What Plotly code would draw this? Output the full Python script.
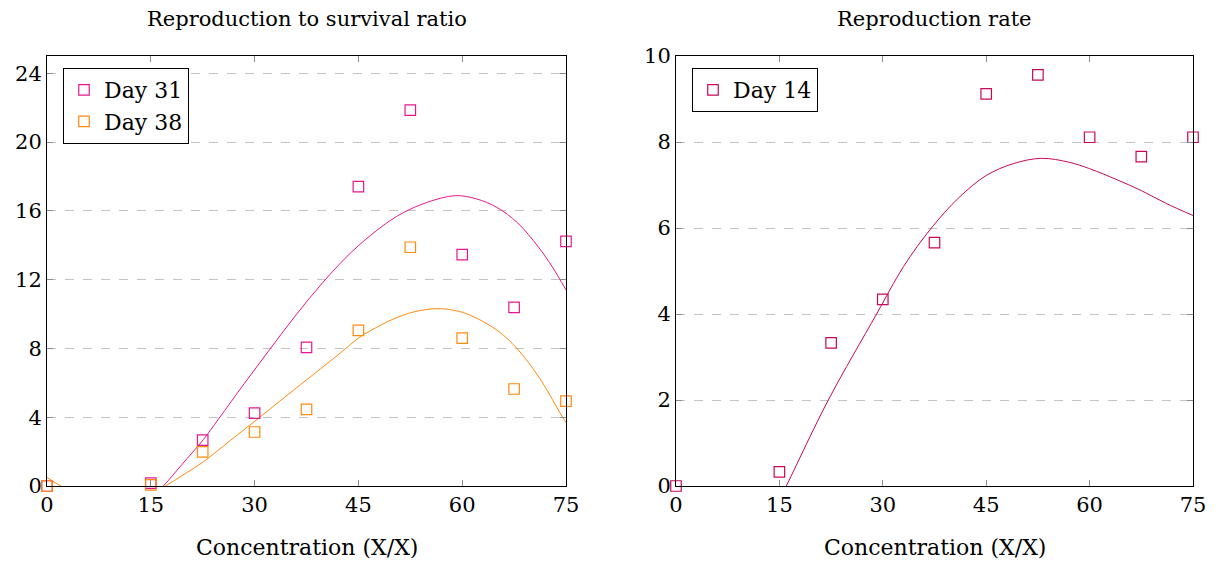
import plotly.graph_objects as go

# ---- data ----
conc = [0, 15, 22.5, 30, 37.5, 45, 52.5, 60, 67.5, 75]
day31 = [0.0, 0.17, 2.67, 4.24, 8.06, 17.4, 21.85, 13.45, 10.38, 14.22]
day38 = [0.0, 0.06, 1.98, 3.14, 4.46, 9.05, 13.88, 8.6, 5.64, 4.94]
day14 = [0.0, 0.33, 3.33, 4.34, 5.66, 9.12, 9.56, 8.11, 7.66, 8.11]

fit31_x = [0, 5, 10, 15, 16.8, 19.5, 22.6, 24.8, 28.5, 32.2, 36, 39.9, 44, 48.1, 51.3, 55, 59, 62, 65, 68, 71, 73, 75]
fit31_y = [-6.0, -4.3, -2.5, -0.7, 0.0, 1.25, 2.7, 3.9, 5.95, 7.95, 9.95, 11.85, 13.6, 15.0, 15.85, 16.5, 16.88, 16.7, 16.2, 15.3, 13.9, 12.75, 11.4]

fit38_x = [0, 2, 5, 10, 14, 17.1, 19.5, 22.6, 26.5, 30.6, 34, 37.6, 42.6, 45, 46.7, 50, 53, 56.3, 59, 61.1, 65, 67.9, 71.2, 74.5, 75]
fit38_y = [0.5, 0.0, -0.6, -1.0, -0.7, 0.0, 0.6, 1.41, 2.65, 3.95, 5.05, 6.2, 7.8, 8.6, 9.02, 9.7, 10.12, 10.31, 10.2, 9.94, 9.07, 8.0, 6.26, 4.0, 3.7]

fit14_x = [0, 8, 12, 16, 22.1, 29.1, 33, 37.05, 41, 45, 49, 53, 57, 60, 64, 67.5, 71, 75]
fit14_y = [-3.0, -2.2, -1.3, 0.0, 2.0, 4.0, 5.1, 6.0, 6.7, 7.22, 7.5, 7.62, 7.53, 7.38, 7.12, 6.87, 6.58, 6.29]

x_ticks = [0, 15, 30, 45, 60, 75]
y1_ticks = [0, 4, 8, 12, 16, 20, 24]
y2_ticks = [0, 2, 4, 6, 8, 10]

c31 = "#e8178f"
c38 = "#ff8a0d"
c14 = "#c8085a"

FONT = "DejaVu Serif"

fig = go.Figure()

fig.add_trace(go.Scatter(x=fit31_x, y=fit31_y, mode="lines", line=dict(color=c31, width=1, shape="spline"),
                         showlegend=False, hoverinfo="skip", xaxis="x", yaxis="y"))
fig.add_trace(go.Scatter(x=fit38_x, y=fit38_y, mode="lines", line=dict(color=c38, width=1, shape="spline"),
                         showlegend=False, hoverinfo="skip", xaxis="x", yaxis="y"))
fig.add_trace(go.Scatter(x=conc, y=day31, mode="markers", name="Day 31",
                         marker=dict(symbol="square-open", size=10.5, color=c31, line=dict(width=1.2)),
                         cliponaxis=False, xaxis="x", yaxis="y", legend="legend"))
fig.add_trace(go.Scatter(x=conc, y=day38, mode="markers", name="Day 38",
                         marker=dict(symbol="square-open", size=10.5, color=c38, line=dict(width=1.2)),
                         cliponaxis=False, xaxis="x", yaxis="y", legend="legend"))

fig.add_trace(go.Scatter(x=fit14_x, y=fit14_y, mode="lines", line=dict(color=c14, width=1, shape="spline"),
                         showlegend=False, hoverinfo="skip", xaxis="x2", yaxis="y2"))
fig.add_trace(go.Scatter(x=conc, y=day14, mode="markers", name="Day 14",
                         marker=dict(symbol="square-open", size=10.5, color=c14, line=dict(width=1.2)),
                         cliponaxis=False, xaxis="x2", yaxis="y2", legend="legend2"))

# page is offset by the default 8px body margin
OFF = 8
W, H = 1208, 554


def px(p):
    return (p - OFF) / W


def py(p):
    return 1 - (p - OFF) / H


xd1 = [px(47), px(566)]
xd2 = [px(676), px(1193)]
yd = [py(486), py(56)]

axis_common = dict(showline=True, linecolor="black", linewidth=1, mirror="ticks",
                   ticks="inside", ticklen=6, tickcolor="#8c8c8c", tickwidth=1, automargin=False,
                   tickfont=dict(family=FONT, size=21, color="black"), zeroline=False)

TFS = 22

fig.update_layout(
    width=W, height=H,
    margin=dict(l=0, r=0, t=0, b=0),
    paper_bgcolor="white", plot_bgcolor="white",
    font=dict(family=FONT, size=21, color="black"),
    xaxis=dict(domain=xd1, range=[0, 75], tickvals=x_ticks, showgrid=False, anchor="y", **axis_common),
    yaxis=dict(domain=yd, range=[0, 25], tickvals=y1_ticks, showgrid=True, gridcolor="#c4c4c4",
               griddash="dash", gridwidth=1, anchor="x", **axis_common),
    xaxis2=dict(domain=xd2, range=[0, 75], tickvals=x_ticks, showgrid=False, anchor="y2", **axis_common),
    yaxis2=dict(domain=yd, range=[0, 10], tickvals=y2_ticks, showgrid=True, gridcolor="#c4c4c4",
                griddash="dash", gridwidth=1, anchor="x2", **axis_common),
    legend=dict(x=px(63), y=py(68), xanchor="left", yanchor="top", bgcolor="white",
                bordercolor="black", borderwidth=1, font=dict(family=FONT, size=TFS),
                itemwidth=30, tracegroupgap=0),
    legend2=dict(x=px(692), y=py(68), xanchor="left", yanchor="top", bgcolor="white",
                 bordercolor="black", borderwidth=1, font=dict(family=FONT, size=TFS),
                 itemwidth=30),
    annotations=[
        dict(text="Reproduction to survival ratio", x=(xd1[0] + xd1[1]) / 2, y=py(19),
             xref="paper", yref="paper", showarrow=False, font=dict(family=FONT, size=21),
             xanchor="center", yanchor="middle"),
        dict(text="Reproduction rate", x=(xd2[0] + xd2[1]) / 2, y=py(19),
             xref="paper", yref="paper", showarrow=False, font=dict(family=FONT, size=21),
             xanchor="center", yanchor="middle"),
        dict(text="Concentration (X/X)", x=(xd1[0] + xd1[1]) / 2, y=py(547),
             xref="paper", yref="paper", showarrow=False, font=dict(family=FONT, size=TFS),
             xanchor="center", yanchor="middle"),
        dict(text="Concentration (X/X)", x=(xd2[0] + xd2[1]) / 2, y=py(547),
             xref="paper", yref="paper", showarrow=False, font=dict(family=FONT, size=TFS),
             xanchor="center", yanchor="middle"),
    ],
)

fig.write_html("out.html")
